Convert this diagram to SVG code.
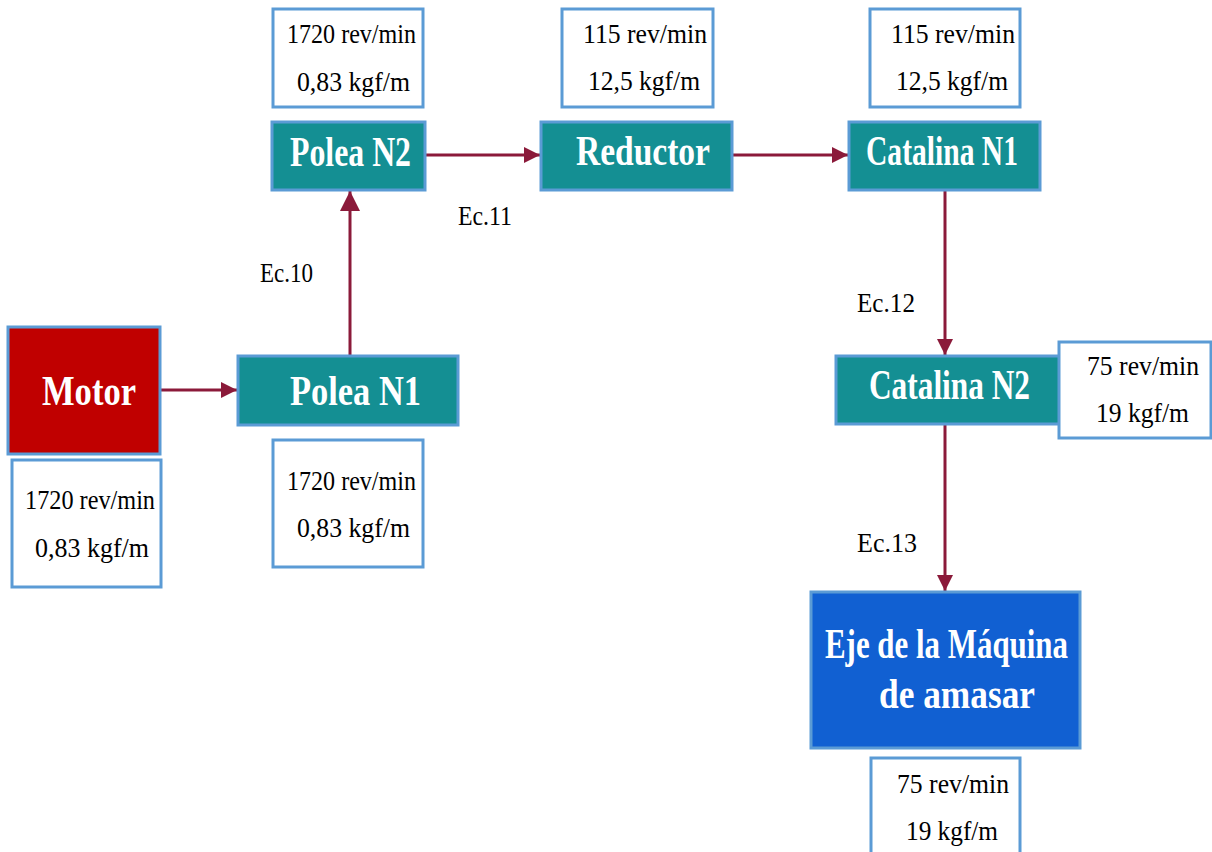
<svg xmlns="http://www.w3.org/2000/svg" width="1212" height="852" viewBox="0 0 1212 852">
<defs>
<style>
.box{stroke:#5B9BD5;stroke-width:3}
.teal{fill:#148F93}
.info{fill:#FFFFFF}
.lbl{font-family:'Liberation Serif','DejaVu Serif','Times New Roman',serif;font-weight:bold;fill:#FFFFFF;font-size:42px}
.txt{font-family:'Liberation Serif','DejaVu Serif','Times New Roman',serif;fill:#000000;font-size:28px}
.conn{stroke:#8B1A3A;stroke-width:3;fill:none}
</style>
<marker id="ah" viewBox="0 0 10 10" refX="10" refY="5" markerWidth="16" markerHeight="18" markerUnits="userSpaceOnUse" orient="auto">
<path d="M0,0 L10,5 L0,10 Z" fill="#8B1A3A"/>
</marker>
<marker id="ahL" viewBox="0 0 10 10" refX="10" refY="5" markerWidth="28" markerHeight="20" markerUnits="userSpaceOnUse" orient="auto">
<path d="M0,0 L10,5 L0,10 Z" fill="#8B1A3A"/>
</marker>
</defs>
<rect width="1212" height="852" fill="#FFFFFF"/>

<g id="connectors">
<line class="conn" x1="161" y1="390" x2="237" y2="390" marker-end="url(#ah)"/>
<line class="conn" x1="350" y1="355" x2="350" y2="191" marker-end="url(#ahL)"/>
<line class="conn" x1="425" y1="155" x2="540" y2="155" marker-end="url(#ah)"/>
<line class="conn" x1="732" y1="155" x2="848" y2="155" marker-end="url(#ah)"/>
<line class="conn" x1="945" y1="190" x2="945" y2="355" marker-end="url(#ah)"/>
<line class="conn" x1="945" y1="425" x2="945" y2="591" marker-end="url(#ah)"/>
<text class="txt" x="260" y="282" textLength="53" lengthAdjust="spacingAndGlyphs">Ec.10</text>
<text class="txt" x="458" y="225" textLength="54" lengthAdjust="spacingAndGlyphs">Ec.11</text>
<text class="txt" x="857" y="312" textLength="58" lengthAdjust="spacingAndGlyphs">Ec.12</text>
<text class="txt" x="857" y="552" textLength="60" lengthAdjust="spacingAndGlyphs">Ec.13</text>
</g>

<g id="motor">
<rect class="box" x="8" y="327" width="152" height="127" fill="#C00000"/>
<text class="lbl" x="42" y="405" textLength="94" lengthAdjust="spacingAndGlyphs">Motor</text>
</g>
<g id="motor-info">
<rect class="box info" x="12" y="460" width="149" height="127"/>
<text class="txt" x="25" y="509" textLength="130" lengthAdjust="spacingAndGlyphs">1720 rev/min</text>
<text class="txt" x="35" y="557" textLength="114" lengthAdjust="spacingAndGlyphs">0,83 kgf/m</text>
</g>

<g id="polea-n1">
<rect class="box teal" x="238" y="356" width="220" height="69"/>
<text class="lbl" x="290" y="405" textLength="131" lengthAdjust="spacingAndGlyphs">Polea N1</text>
</g>
<g id="polea-n1-info">
<rect class="box info" x="273" y="440" width="150" height="127"/>
<text class="txt" x="287" y="490" textLength="129" lengthAdjust="spacingAndGlyphs">1720 rev/min</text>
<text class="txt" x="297" y="537" textLength="113" lengthAdjust="spacingAndGlyphs">0,83 kgf/m</text>
</g>

<g id="polea-n2">
<rect class="box teal" x="272" y="122" width="153" height="68"/>
<text class="lbl" x="290" y="166" textLength="121" lengthAdjust="spacingAndGlyphs">Polea N2</text>
</g>
<g id="polea-n2-info">
<rect class="box info" x="273" y="9" width="150" height="98"/>
<text class="txt" x="287" y="43" textLength="129" lengthAdjust="spacingAndGlyphs">1720 rev/min</text>
<text class="txt" x="297" y="91" textLength="113" lengthAdjust="spacingAndGlyphs">0,83 kgf/m</text>
</g>

<g id="reductor">
<rect class="box teal" x="541" y="122" width="191" height="68"/>
<text class="lbl" x="576" y="165" textLength="134" lengthAdjust="spacingAndGlyphs">Reductor</text>
</g>
<g id="reductor-info">
<rect class="box info" x="562" y="9" width="151" height="98"/>
<text class="txt" x="583" y="43" textLength="124" lengthAdjust="spacingAndGlyphs">115 rev/min</text>
<text class="txt" x="588" y="90" textLength="112" lengthAdjust="spacingAndGlyphs">12,5 kgf/m</text>
</g>

<g id="catalina-n1">
<rect class="box teal" x="849" y="122" width="191" height="68"/>
<text class="lbl" x="866" y="165" textLength="152" lengthAdjust="spacingAndGlyphs">Catalina N1</text>
</g>
<g id="catalina-n1-info">
<rect class="box info" x="870" y="9" width="150" height="98"/>
<text class="txt" x="891" y="43" textLength="124" lengthAdjust="spacingAndGlyphs">115 rev/min</text>
<text class="txt" x="896" y="90" textLength="112" lengthAdjust="spacingAndGlyphs">12,5 kgf/m</text>
</g>

<g id="catalina-n2">
<rect class="box teal" x="836" y="356" width="230" height="68"/>
<text class="lbl" x="869" y="399" textLength="161" lengthAdjust="spacingAndGlyphs">Catalina N2</text>
</g>
<g id="catalina-n2-info">
<rect class="box info" x="1059" y="342" width="152" height="96"/>
<text class="txt" x="1087" y="375" textLength="112" lengthAdjust="spacingAndGlyphs">75 rev/min</text>
<text class="txt" x="1096" y="422" textLength="93" lengthAdjust="spacingAndGlyphs">19 kgf/m</text>
</g>

<g id="eje">
<rect class="box" x="811" y="592" width="269" height="156" fill="#1160D2"/>
<text class="lbl" x="825" y="658" textLength="243" lengthAdjust="spacingAndGlyphs">Eje de la Máquina</text>
<text class="lbl" x="879" y="708" textLength="156" lengthAdjust="spacingAndGlyphs">de amasar</text>
</g>
<g id="eje-info">
<rect class="box info" x="871" y="758" width="149" height="110"/>
<text class="txt" x="897" y="793" textLength="112" lengthAdjust="spacingAndGlyphs">75 rev/min</text>
<text class="txt" x="906" y="840" textLength="92" lengthAdjust="spacingAndGlyphs">19 kgf/m</text>
</g>
</svg>
